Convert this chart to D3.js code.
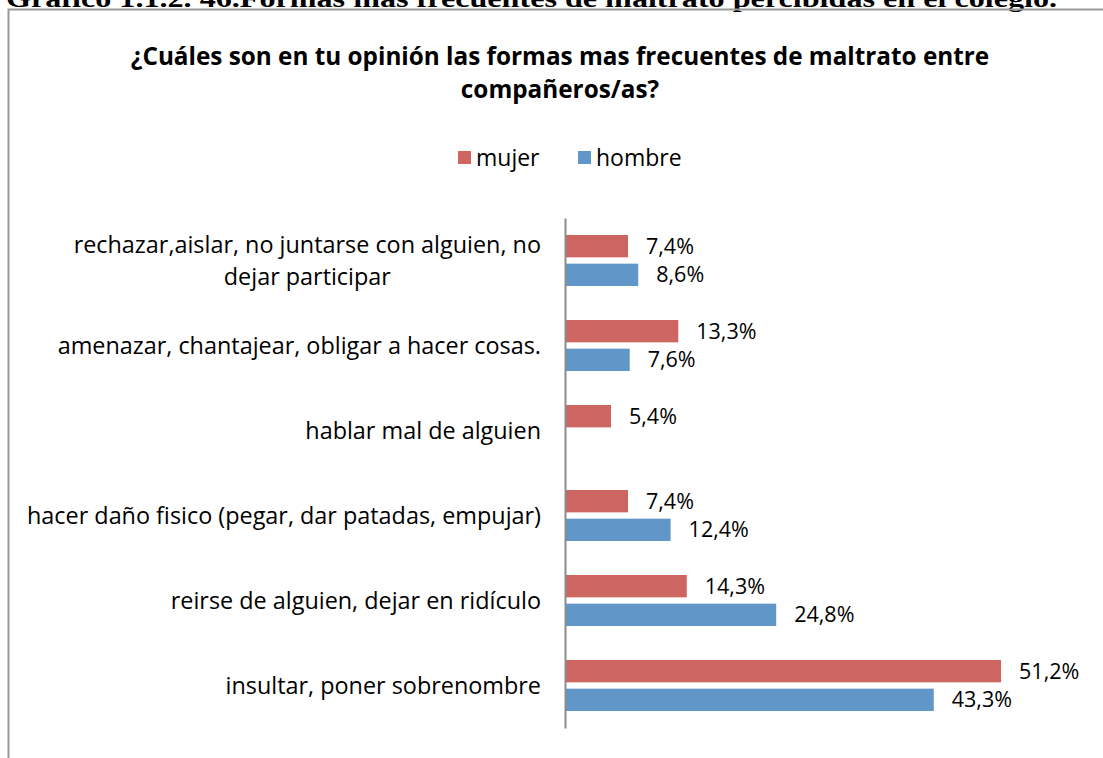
<!DOCTYPE html>
<html>
<head>
<meta charset="utf-8">
<script src="https://cdn.jsdelivr.net/npm/d3@7"></script>
<style>
  body { margin: 0; background: #fff; }
  svg text { font-family: "Open Sans", "Noto Sans", sans-serif; fill: #000; }
</style>
</head>
<body>
<script>
var categories = [
    'rechazar,aislar, no juntarse con alguien, no\ndejar participar',
    'amenazar, chantajear, obligar a hacer cosas.',
    'hablar mal de alguien',
    'hacer daño fisico (pegar, dar patadas, empujar)',
    'reirse de alguien, dejar en ridículo',
    'insultar, poner sobrenombre'
];
var seriesNames = ['mujer', 'hombre'];
var mujer = [7.4, 13.3, 5.4, 7.4, 14.3, 51.2];
var hombre = [8.6, 7.6, null, 12.4, 24.8, 43.3];
var titleLines = ['¿Cuáles son en tu opinión las formas mas frecuentes de maltrato entre', 'compañeros/as?'];
var pageCaption = 'Gráfico 1.1.2. 46.Formas mas frecuentes de maltrato percibidas en el colegio.';

var width = 1103, height = 758;
var colors = { mujer: '#cd6660', hombre: '#6196c8' };
var series = { mujer: mujer, hombre: hombre };

var svg = d3.select('body').append('svg')
    .attr('width', width)
    .attr('height', height);

// caption of the document, cut by the top of the picture
svg.append('text')
    .attr('x', 6)
    .attr('y', 6.5)
    .style('font-family', '"Liberation Serif", "DejaVu Serif", serif')
    .style('font-weight', 'bold')
    .style('font-size', '26px')
    .attr('textLength', 1051)
    .attr('lengthAdjust', 'spacingAndGlyphs')
    .text(pageCaption);

// chart frame
svg.append('rect')
    .attr('x', 8.5)
    .attr('y', 9.5)
    .attr('width', 1200)
    .attr('height', 900)
    .attr('fill', 'none')
    .attr('stroke', '#9a9a9a')
    .attr('stroke-width', 2);

// title
svg.selectAll('text.title')
    .data(titleLines)
    .enter().append('text')
    .attr('class', 'title')
    .attr('x', 560)
    .attr('y', function(d, i) { return 65 + i * 33; })
    .attr('text-anchor', 'middle')
    .style('font-size', '24.3px')
    .style('font-weight', 'bold')
    .text(function(d) { return d; });

// legend
var legendX = [458, 578];
var legend = svg.selectAll('g.legend')
    .data(seriesNames)
    .enter().append('g')
    .attr('class', 'legend')
    .attr('transform', function(d, i) { return 'translate(' + legendX[i] + ',151)'; });

legend.append('rect')
    .attr('width', 13)
    .attr('height', 13)
    .attr('fill', function(d) { return colors[d]; });

legend.append('text')
    .attr('x', 18)
    .attr('y', 6.5)
    .attr('dy', '0.35em')
    .style('font-size', '23px')
    .text(function(d) { return d; });

// scales
var x = d3.scaleLinear()
    .domain([0, 60])
    .range([565, 565 + 511]);

var y = d3.scaleBand()
    .domain(categories)
    .range([218, 728]);

var y1 = d3.scaleBand()
    .domain(seriesNames)
    .range([17, 68])
    .paddingInner(0.22);

// bars
var groups = svg.selectAll('g.cat')
    .data(categories)
    .enter().append('g')
    .attr('class', 'cat')
    .attr('transform', function(d) { return 'translate(0,' + y(d) + ')'; });

var cells = groups.selectAll('g.cell')
    .data(function(d, i) {
        return seriesNames.map(function(s) { return { key: s, value: series[s][i] }; })
            .filter(function(o) { return o.value != null; });
    })
    .enter().append('g')
    .attr('class', 'cell');

cells.append('rect')
    .attr('x', x(0))
    .attr('y', function(d) { return y1(d.key); })
    .attr('width', function(d) { return x(d.value) - x(0); })
    .attr('height', y1.bandwidth())
    .attr('fill', function(d) { return colors[d.key]; });

var formatPct = function(v) { return d3.format('.1f')(v).replace('.', ',') + '%'; };

cells.append('text')
    .attr('x', function(d) { return x(d.value) + 18; })
    .attr('y', function(d) { return y1(d.key) + y1.bandwidth() / 2; })
    .attr('dy', '0.35em')
    .style('font-size', '21.5px')
    .text(function(d) { return formatPct(d.value); });

// category axis
var axis = svg.append('g')
    .attr('class', 'y-axis')
    .attr('transform', 'translate(' + x(0) + ',0)')
    .call(d3.axisLeft(y).tickSize(0).tickPadding(24).tickFormat(''));

axis.select('.domain')
    .attr('stroke', '#8c8c8c')
    .attr('stroke-width', 2);

axis.selectAll('.tick').each(function(d) {
    var lines = d.split('\n');
    var t = d3.select(this).append('text')
        .style('font-size', '23.4px')
        .attr('text-anchor', 'middle');
    var spans = t.selectAll('tspan')
        .data(lines)
        .enter().append('tspan')
        .text(function(s) { return s; });
    var maxW = 0;
    spans.each(function() { maxW = Math.max(maxW, this.getComputedTextLength()); });
    var lineH = 32;
    var top = -(lines.length - 1) * lineH / 2;
    spans.attr('x', -24 - maxW / 2)
        .attr('y', function(s, i) { return top + i * lineH; })
        .attr('dy', '0.35em');
});
</script>
</body>
</html>
